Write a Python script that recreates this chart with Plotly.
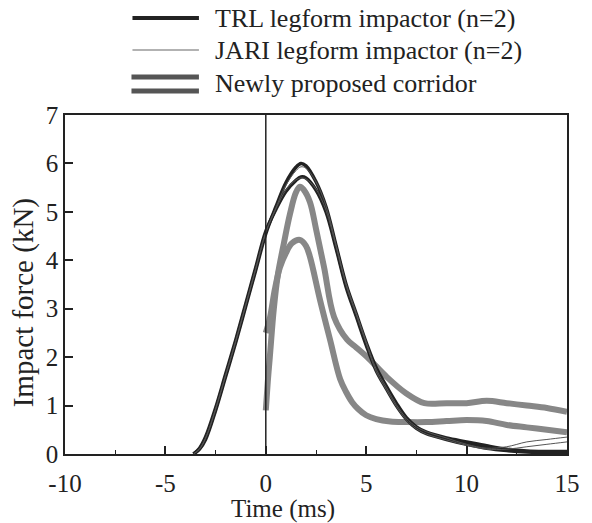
import plotly.graph_objects as go

# ---- data ----
t_trl = [-3.6, -3.3, -3.0, -2.5, -2.0, -1.5, -1.0, -0.5, 0.0, 0.5, 1.0, 1.5, 1.75, 2.0, 2.5, 3.0, 3.5,
         4.0, 4.5, 5.0, 5.5, 6.0, 6.5, 7.0, 7.5, 8.0, 9.0, 10.0, 11.0, 12.0, 13.0, 14.0, 15.0]
trl_1 = [0.0, 0.1, 0.3, 0.9, 1.6, 2.3, 3.05, 3.8, 4.55, 5.1, 5.6, 5.92, 6.0, 5.95, 5.62, 5.1, 4.3,
         3.5, 2.9, 2.3, 1.78, 1.4, 1.05, 0.75, 0.56, 0.45, 0.33, 0.25, 0.17, 0.1, 0.06, 0.05, 0.05]
trl_2 = [0.0, 0.12, 0.35, 0.95, 1.65, 2.35, 3.1, 3.85, 4.6, 5.05, 5.42, 5.65, 5.72, 5.7, 5.45, 5.0, 4.25,
         3.45, 2.85, 2.25, 1.72, 1.35, 1.0, 0.72, 0.53, 0.42, 0.3, 0.2, 0.12, 0.07, 0.04, 0.03, 0.03]
jari_1 = [0.0, 0.1, 0.32, 0.92, 1.62, 2.32, 3.07, 3.82, 4.57, 5.08, 5.55, 5.85, 5.93, 5.9, 5.62, 5.12, 4.32,
          3.52, 2.92, 2.32, 1.75, 1.38, 1.02, 0.74, 0.56, 0.46, 0.33, 0.2, 0.12, 0.15, 0.25, 0.3, 0.35]
jari_2 = [0.0, 0.11, 0.33, 0.93, 1.63, 2.33, 3.08, 3.83, 4.58, 5.06, 5.45, 5.66, 5.7, 5.68, 5.47, 5.03, 4.28,
          3.48, 2.88, 2.28, 1.7, 1.33, 0.98, 0.7, 0.52, 0.41, 0.29, 0.18, 0.1, 0.1, 0.15, 0.2, 0.25]

t_corr_up = [0.0, 0.1, 0.2, 0.4, 0.6, 0.9, 1.2, 1.5, 1.7, 1.9, 2.2, 2.5, 2.9, 3.4, 4.05, 4.5, 5.05,
             6.0, 7.0, 7.9, 9.0, 10.0, 11.0, 12.0, 13.0, 14.0, 15.0]
corr_up = [0.9, 1.5, 2.0, 3.0, 3.7, 4.35, 4.95, 5.4, 5.52, 5.45, 5.2, 4.65, 3.86, 2.83, 2.36, 2.2, 2.0,
           1.6, 1.25, 1.05, 1.05, 1.05, 1.1, 1.05, 1.0, 0.95, 0.87]
t_corr_lo = [0.0, 0.2, 0.45, 0.7, 1.0, 1.3, 1.7, 2.0, 2.2, 2.7, 3.2, 3.7, 4.0, 4.3, 4.6, 5.0, 5.5, 6.2,
             7.0, 8.0, 9.0, 10.0, 11.0, 12.0, 13.0, 14.0, 15.0]
corr_lo = [2.5, 2.8, 3.4, 3.85, 4.15, 4.35, 4.42, 4.3, 4.07, 3.18, 2.36, 1.55, 1.28, 1.07, 0.93, 0.8, 0.72, 0.67,
           0.66, 0.66, 0.68, 0.7, 0.68, 0.6, 0.55, 0.5, 0.45]

legend_labels = ["TRL legform impactor (n=2)", "JARI legform impactor (n=2)", "Newly proposed corridor"]
x_ticks = [-10, -5, 0, 5, 10, 15]
x_ticklabels = ["-10", "-5", "0", "5", "10", "15"]
y_ticks = [0, 1, 2, 3, 4, 5, 6, 7]
x_title = "Time (ms)"
y_title = "Impact force (kN)"

FONT = "Liberation Serif, Times New Roman, serif"
CORR_COLOR = "#878787"
INK = "#222222"

fig = go.Figure()
fig.add_trace(go.Scatter(x=t_corr_up, y=corr_up, mode="lines", line=dict(color=CORR_COLOR, width=6, shape="spline"),
                         showlegend=False, hoverinfo="skip"))
fig.add_trace(go.Scatter(x=t_corr_lo, y=corr_lo, mode="lines", line=dict(color=CORR_COLOR, width=6, shape="spline"),
                         showlegend=False, hoverinfo="skip"))
for y in (trl_1, trl_2):
    fig.add_trace(go.Scatter(x=t_trl, y=y, mode="lines", line=dict(color=INK, width=3.5, shape="spline"),
                             showlegend=False, hoverinfo="skip"))
for y in (jari_1, jari_2):
    fig.add_trace(go.Scatter(x=t_trl, y=y, mode="lines", line=dict(color="#555555", width=1, shape="spline"),
                             showlegend=False, hoverinfo="skip"))

# vertical line at t = 0
fig.add_shape(type="line", xref="x", yref="paper", x0=0, x1=0, y0=0, y1=1,
              line=dict(color=INK, width=1.5))

# manual legend (paper coords derived from pixel positions)
W, H = 592, 523
L, R, T, B = 65, 21, 115, 69
pw, ph = W - L - R, H - T - B

def px_x(p):
    return (p - L) / pw

def px_y(p):
    return (H - B - p) / ph

leg_rows = [(18, INK, 4), (50, "#666666", 1.2)]
for (py, col, wd) in leg_rows:
    fig.add_shape(type="line", xref="paper", yref="paper", x0=px_x(133), x1=px_x(200), y0=px_y(py), y1=px_y(py),
                  line=dict(color=col, width=wd))
for py in (77, 91):
    fig.add_shape(type="line", xref="paper", yref="paper", x0=px_x(132), x1=px_x(200), y0=px_y(py), y1=px_y(py),
                  line=dict(color="#555555", width=5))
for py, txt in zip((18, 50, 83), legend_labels):
    fig.add_annotation(xref="paper", yref="paper", x=px_x(214), y=px_y(py), text=txt, showarrow=False,
                       xanchor="left", yanchor="middle", font=dict(family=FONT, size=26, color=INK))

# axis titles placed as annotations for precise position
fig.add_annotation(xref="paper", yref="paper", x=px_x(285), y=px_y(509), text=x_title, showarrow=False,
                   xanchor="center", yanchor="middle", font=dict(family=FONT, size=25, color=INK))
fig.add_annotation(xref="paper", yref="paper", x=px_x(23), y=px_y(303), text=y_title, showarrow=False,
                   textangle=-90, xanchor="center", yanchor="middle", font=dict(family=FONT, size=29, color=INK))

fig.update_layout(
    width=W, height=H,
    margin=dict(l=L, r=R, t=T, b=B),
    paper_bgcolor="white", plot_bgcolor="white",
    font=dict(family=FONT, size=24, color=INK),
    showlegend=False,
)
fig.update_xaxes(range=[-10, 15], tickvals=x_ticks, ticktext=x_ticklabels, ticks="inside", ticklen=8, tickwidth=1.5,
                 tickcolor=INK, ticklabelstandoff=6,
                 minor=dict(dtick=2.5, ticks="inside", ticklen=4, tickwidth=1.2, tickcolor=INK),
                 showline=True, linecolor=INK, linewidth=1.5, mirror=True, showgrid=False, zeroline=False,
                 tickfont=dict(size=25))
fig.update_yaxes(range=[0, 7], tickvals=y_ticks, ticks="inside", ticklen=8, tickwidth=1.5, tickcolor=INK,
                 showline=True, linecolor=INK, linewidth=1.5, mirror=True, showgrid=False, zeroline=False,
                 tickfont=dict(size=25))

fig.write_html("out.html")
